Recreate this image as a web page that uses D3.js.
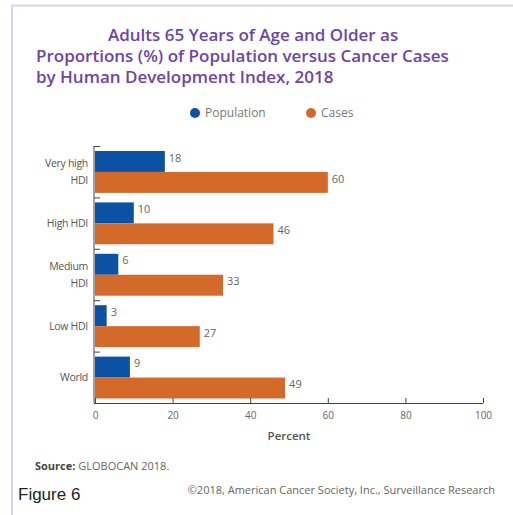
<!DOCTYPE html>
<html>
<head>
<meta charset="utf-8">
<script src="https://cdn.jsdelivr.net/npm/d3@7"></script>
<style>
  body { margin: 0; background: #fff; }
  text { font-family: 'Open Sans', sans-serif; }
</style>
</head>
<body>
<div class="chart"></div>
<script>
const categories = [['Very high', 'HDI'], ['High HDI'], ['Medium', 'HDI'], ['Low HDI'], ['World']];
const population = [18, 10, 6, 3, 9];
const cases = [60, 46, 33, 27, 49];
const series = ['Population', 'Cases'];
const xTicks = [0, 20, 40, 60, 80, 100];

function drawChart() {
  const width = 513;
  const height = 515;
  const blue = '#0b52a5';
  const orange = '#d46a2a';
  const purple = '#6e44a8';
  const gray = '#666';

  const svg = d3.select('.chart')
                .append('svg:svg')
                .attr('width', width)
                .attr('height', height);

  // frame
  svg.append('svg:path')
     .attr('d', `M12,${height} V5.5 H${width}`)
     .attr('fill', 'none')
     .attr('stroke', '#d9d2ee')
     .attr('stroke-width', 2);

  // title
  const titleLines = [
    {t: 'Adults 65 Years of Age and Older as', x: 108, y: 41},
    {t: 'Proportions (%) of Population versus Cancer Cases', x: 36, y: 62},
    {t: 'by Human Development Index, 2018', x: 36, y: 83}
  ];
  svg.selectAll('.title')
     .data(titleLines)
     .enter().append('svg:text')
     .attr('class', 'title')
     .attr('x', d => d.x)
     .attr('y', d => d.y)
     .attr('fill', purple)
     .attr('font-size', 17)
     .attr('font-weight', 600)
     .text(d => d.t);

  // legend
  const legend = [
    {name: series[0], color: blue, x: 195},
    {name: series[1], color: orange, x: 311}
  ];
  const lg = svg.selectAll('.legend')
                .data(legend)
                .enter().append('svg:g')
                .attr('transform', d => `translate(${d.x},113)`);
  lg.append('svg:circle').attr('r', 5).attr('fill', d => d.color);
  lg.append('svg:text')
    .attr('x', 10)
    .attr('dy', '0.35em')
    .attr('font-size', 12)
    .attr('fill', '#777')
    .text(d => d.name);

  const x = d3.scaleLinear()
              .domain([0, 100])
              .range([95, 483]);

  const y = d3.scaleBand()
              .domain(d3.range(categories.length))
              .range([146, 403]);

  const sub = d3.scaleBand()
                .domain(series)
                .range([5, y.bandwidth() - 4.5]);

  const rows = categories.map((c, i) => ({i, label: c, vals: [population[i], cases[i]]}));

  const groups = svg.selectAll('.group')
                    .data(rows)
                    .enter().append('svg:g')
                    .attr('transform', d => `translate(0,${y(d.i)})`);

  groups.selectAll('rect')
        .data(d => d.vals.map((v, k) => ({v, s: series[k]})))
        .enter().append('svg:rect')
        .attr('x', x(0))
        .attr('y', d => sub(d.s))
        .attr('width', d => x(d.v) - x(0))
        .attr('height', sub.bandwidth())
        .attr('fill', d => d.s === 'Population' ? blue : orange);

  groups.selectAll('.val')
        .data(d => d.vals.map((v, k) => ({v, s: series[k]})))
        .enter().append('svg:text')
        .attr('x', d => x(d.v) + 4)
        .attr('y', d => sub(d.s) + sub.bandwidth() / 2 - 1)
        .attr('dy', '0.1em')
        .attr('font-size', 11)
        .attr('fill', gray)
        .text(d => d.v);

  // category labels
  groups.append('svg:text')
        .attr('text-anchor', 'end')
        .attr('font-size', 10.5)
        .attr('fill', '#555')
        .attr('letter-spacing', '-0.3')
        .selectAll('tspan')
        .data(d => d.label)
        .enter().append('svg:tspan')
        .attr('x', 88)
        .attr('y', (d, k, n) => y.bandwidth() / 2 + 4 + (k - (n.length - 1) / 2) * 17)
        .text(d => d);

  // y axis with ticks at band tops
  svg.append('svg:line')
     .attr('x1', 94).attr('x2', 94)
     .attr('y1', 146).attr('y2', 403)
     .attr('stroke', '#444');
  svg.selectAll('.ytick')
     .data(rows)
     .enter().append('svg:line')
     .attr('x1', 94).attr('x2', 100)
     .attr('y1', d => y(d.i) + 0.5).attr('y2', d => y(d.i) + 0.5)
     .attr('stroke', '#444');

  // x axis
  const xAxis = g => g
    .attr('transform', 'translate(0,403)')
    .call(d3.axisBottom(x).tickValues(xTicks).tickSize(-5).tickPadding(9))
    .call(g => g.select('.domain').attr('stroke', '#444').attr('d', `M94,0.5H${x(100)}`))
    .call(g => g.selectAll('.tick line').attr('stroke', '#444'))
    .call(g => g.selectAll('.tick text')
                .attr('font-family', "'Open Sans', sans-serif")
                .attr('font-size', 10)
                .attr('fill', gray));

  svg.append('svg:g').call(xAxis);

  svg.append('svg:text')
     .attr('x', 289)
     .attr('y', 440)
     .attr('text-anchor', 'middle')
     .attr('font-size', 11.5)
     .attr('font-weight', 600)
     .attr('fill', '#555')
     .text('Percent');

  // source and credits
  const src = svg.append('svg:text')
                 .attr('x', 35)
                 .attr('y', 470)
                 .attr('font-size', 11)
                 .attr('fill', gray);
  src.append('svg:tspan').attr('font-weight', 700).attr('fill', '#444').text('Source:');
  src.append('svg:tspan').text(' GLOBOCAN 2018.');

  svg.append('svg:text')
     .attr('x', 18)
     .attr('y', 500)
     .attr('font-size', 17)
     .attr('fill', '#222')
     .style('font-family', 'Arial, "Liberation Sans", sans-serif')
     .text('Figure 6');

  svg.append('svg:text')
     .attr('x', 495)
     .attr('y', 494)
     .attr('text-anchor', 'end')
     .attr('font-size', 11)
     .attr('fill', gray)
     .text('©2018, American Cancer Society, Inc., Surveillance Research');
}

drawChart();
</script>
</body>
</html>
